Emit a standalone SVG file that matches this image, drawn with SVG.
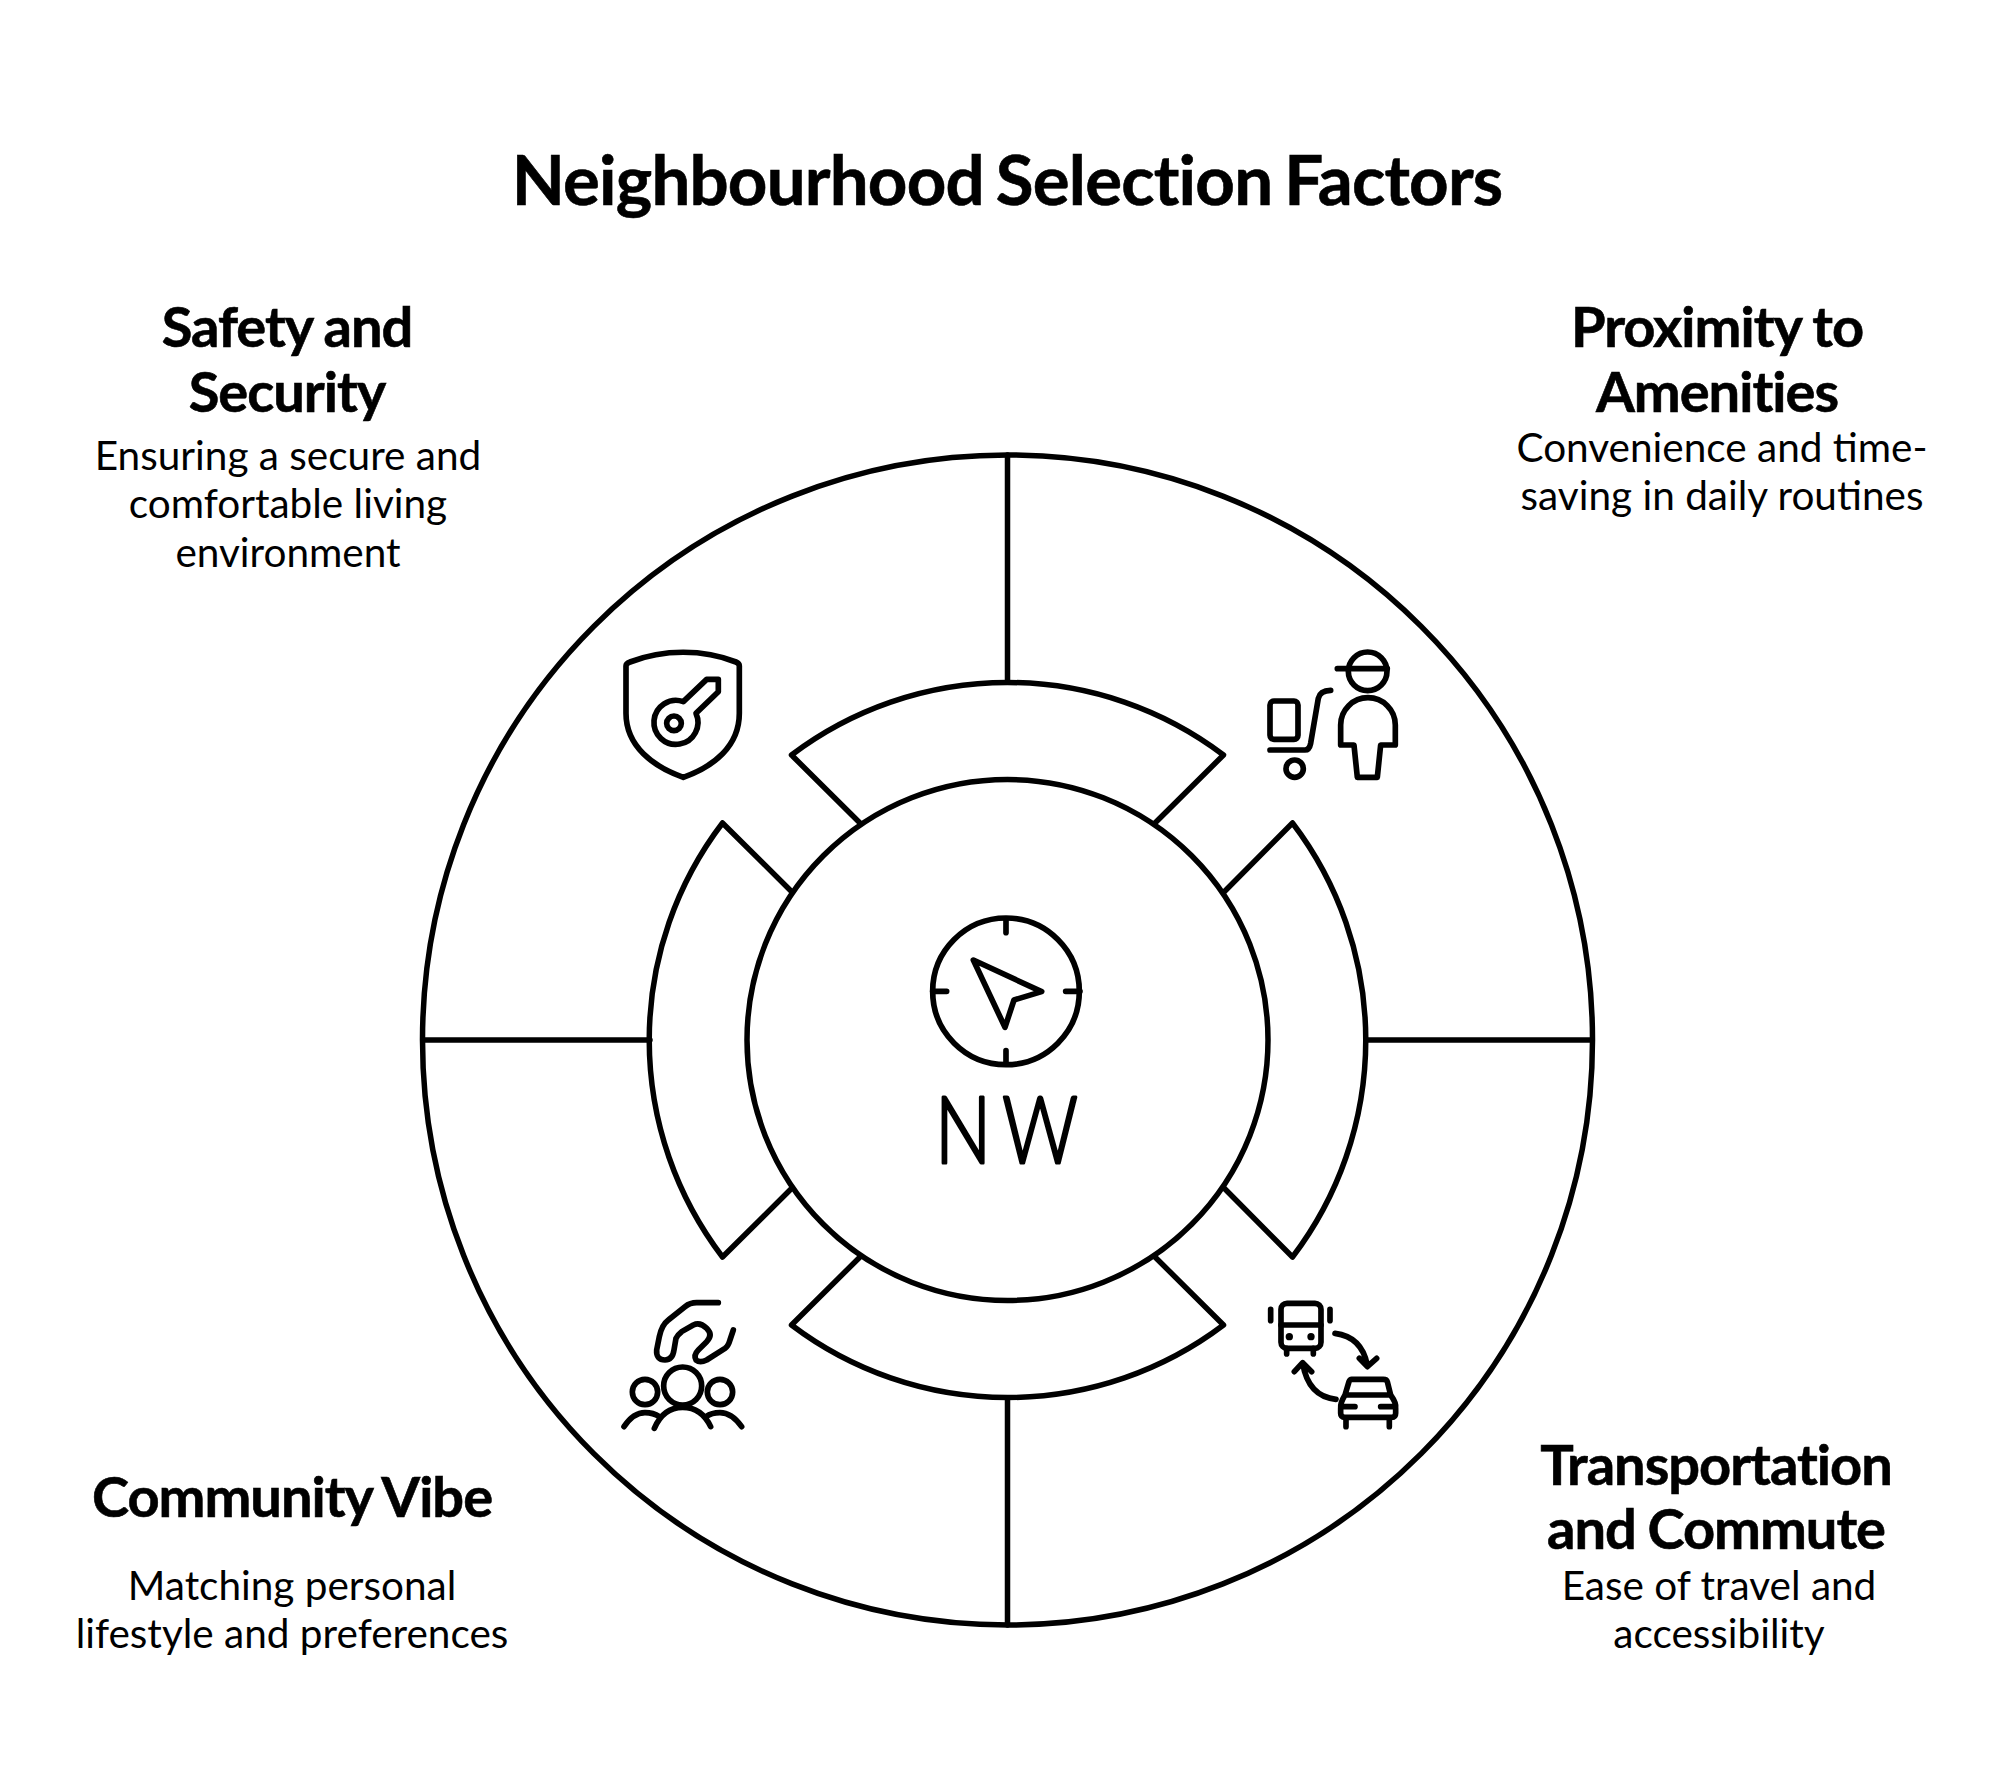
<svg xmlns="http://www.w3.org/2000/svg" width="1999" height="1789" viewBox="0 0 1999 1789">
<style>
.t{font-family:Lato,"Liberation Sans",sans-serif;fill:#000;text-anchor:middle}
.title{font-size:69px;font-weight:700;letter-spacing:-.8px;word-spacing:-4px;stroke:#000;stroke-width:.6px}
.h{font-size:56px;font-weight:700;letter-spacing:-1px;word-spacing:-1px;stroke:#000;stroke-width:.6px}
.b{font-size:40.5px;font-weight:400}
.l{fill:none;stroke:#000;stroke-width:5.5;stroke-linecap:round;stroke-linejoin:round}
.i{fill:none;stroke:#000;stroke-width:17;stroke-linecap:round;stroke-linejoin:round}
.d{fill:#000;stroke:none}
</style>
<rect width="1999" height="1789" fill="#fff"/>
<text class="t title" x="1007" y="205">Neighbourhood Selection Factors</text>
<g id="connectors">
<circle class="l" cx="1007.5" cy="1040" r="585"/>
<path class="l" d="M1007.5 455V682M1007.5 1398V1625M423 1040H650M1366 1040H1592"/>
</g>
<g id="ring">
<path class="l" d="M791.5 755A358 358 0 0 1 1223.5 755L1155 823M860 823L791.5 755"/>
<path class="l" d="M1223.5 1325A358 358 0 0 1 791.5 1325L860 1257M1155 1257L1223.5 1325"/>
<path class="l" d="M722.5 823A358 358 0 0 0 722.5 1257L792 1188M792 892L722.5 823"/>
<path class="l" d="M1292.5 823A358 358 0 0 1 1292.5 1257L1224 1188M1224 892L1292.5 823"/>
</g>
<g id="center">
<circle class="l" cx="1007.5" cy="1040" r="260.5"/>
<g transform="translate(900 890) scale(.3333)">
<circle class="i" cx="318" cy="304" r="220"/>
<path class="i" d="M318 90V128M318 482V520M98 304H140M497 304H540M220 210L425 305L342 330L315 412Z"/>
</g>
<text transform="translate(1012 1163) scale(.8 1)" x="0" y="0" font-family="Lato,'Liberation Sans',sans-serif" font-size="93" font-weight="300" text-anchor="middle" letter-spacing="14" fill="#000" stroke="#000" stroke-width="3" stroke-linejoin="round">NW</text>
</g>
<g id="safety">
<g transform="translate(600 630) scale(.3333)">
<path class="i" d="M78 108Q78 100 90 96C190 57 310 57 408 96Q418 100 418 108V250C418 350 340 410 250 442C160 410 78 350 78 250Z"/>
<path class="i" d="M250 215L320 148H355V185L288 250A66 66 0 1 1 250 215Z"/>
<circle class="i" cx="222" cy="280" r="22"/>
</g>
<text class="t h" x="287" y="347">Safety and</text>
<text class="t h" x="287" y="412">Security</text>
<text class="t b" x="288" y="470">Ensuring a secure and</text>
<text class="t b" x="288" y="518">comfortable living</text>
<text class="t b" x="288" y="567">environment</text>
</g>
<g id="proximity">
<g transform="translate(1250 630) scale(.3333)">
<circle class="i" cx="353" cy="124" r="58"/>
<path class="i" d="M262 116H412M272 345V285A82 82 0 0 1 436 285V345H392L382 442H322L312 345Z"/>
<rect class="i" x="60" y="213" width="84" height="115" rx="12"/>
<path class="i" d="M60 360H165Q178 360 182 340L205 205Q210 182 242 181"/>
<circle class="i" cx="134" cy="416" r="26"/>
</g>
<text class="t h" x="1717" y="347">Proximity to</text>
<text class="t h" x="1717" y="412">Amenities</text>
<text class="t b" x="1722" y="462">Convenience and time-</text>
<text class="t b" x="1722" y="510">saving in daily routines</text>
</g>
<g id="community">
<g transform="translate(600 1280) scale(.3333)">
<path class="i" d="M355 68H290Q270 68 255 80L205 120Q185 135 178 170L170 210Q168 240 195 240Q218 240 222 210L228 175Q232 165 245 155L280 135Q300 125 320 145Q340 165 320 185L295 210Q280 225 288 240Q300 250 320 240L375 205Q385 198 390 180L400 150"/>
<circle class="i" cx="248" cy="318" r="57"/>
<circle class="i" cx="135" cy="336" r="38"/>
<circle class="i" cx="360" cy="336" r="38"/>
<path class="i" d="M163 445Q190 382 248 382Q305 382 332 440M72 440Q100 398 135 398Q160 398 178 410M318 410Q335 398 360 398Q395 398 425 440"/>
</g>
<text class="t h" x="292" y="1517">Community Vibe</text>
<text class="t b" x="292" y="1600">Matching personal</text>
<text class="t b" x="292" y="1648">lifestyle and preferences</text>
</g>
<g id="transport">
<g transform="translate(1250 1280) scale(.3333)">
<rect class="i" x="93" y="70" width="120" height="135" rx="18"/>
<path class="i" d="M93 135H213M110 205V222M190 205V222M62 88V122M240 88V122"/>
<circle class="d" cx="118" cy="170" r="11"/><circle class="d" cx="183" cy="170" r="11"/>
<path class="i" d="M255 160Q335 170 352 255M328 235L352 260L380 235M258 358Q175 350 158 250M133 275L158 248L185 275"/>
<path class="i" d="M305 298H400Q410 298 412 305L422 345Q440 370 437 385V400Q437 412 425 412H285Q272 412 272 400V385Q270 370 285 345L297 305Q300 298 305 298ZM290 345H420M278 380H315M392 380H432M288 412V440M418 412V440"/>
</g>
<text class="t h" x="1716" y="1485">Transportation</text>
<text class="t h" x="1716" y="1549">and Commute</text>
<text class="t b" x="1719" y="1600">Ease of travel and</text>
<text class="t b" x="1719" y="1648">accessibility</text>
</g>
</svg>
